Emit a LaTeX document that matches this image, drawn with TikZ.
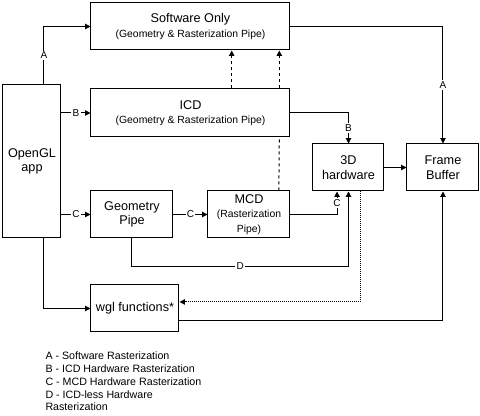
\documentclass[tikz,border=0pt]{standalone}
\usepackage{fontspec}
\setmainfont{Liberation Sans}
\usetikzlibrary{arrows.meta}

\tikzset{every picture/.style={line width=0.75pt}}
\tikzset{
  blk/.style={draw, fill=white, inner sep=0pt, align=center, font=\fontsize{9.5}{11}\selectfont},
  tag/.style={fill=white, inner sep=1pt, font=\fontsize{7.5}{9}\selectfont},
  flow/.style={-{Triangle[length=4pt,width=4pt]}},
  dashflow/.style={flow, dash pattern=on 2.25pt off 2.25pt},
  dotflow/.style={flow, dash pattern=on 0.75pt off 0.75pt},
}
\newcommand{\subtxt}[1]{{\fontsize{7.8}{9.5}\selectfont #1}}

\begin{document}
\begin{tikzpicture}[x=0.75pt,y=0.75pt,yscale=-1,xscale=1]
\useasboundingbox (0,0) rectangle (480,416);

%Shape: Rectangle [soft]
\node[blk, minimum width=149.25pt, minimum height=35.25pt] (soft) at (190.5,26.5) {Software Only\\\subtxt{(Geometry \& Rasterization Pipe)}};
%Shape: Rectangle [app]
\node[blk, minimum width=43.5pt, minimum height=114.75pt] (app) at (32,161.5) {OpenGL\\app};
%Shape: Rectangle [icd]
\node[blk, minimum width=149.25pt, minimum height=36pt] (icd) at (190.5,113) {ICD\\\subtxt{(Geometry \& Rasterization Pipe)}};
%Shape: Rectangle [hw]
\node[blk, minimum width=53.25pt, minimum height=35.25pt] (hw) at (348.5,167.5) {3D\\hardware};
%Shape: Rectangle [fb]
\node[blk, minimum width=54pt, minimum height=35.25pt] (fb) at (443,167.5) {Frame\\Buffer};
%Shape: Rectangle [geo]
\node[blk, minimum width=61.5pt, minimum height=35.25pt] (geo) at (132,214.5) {Geometry\\Pipe};
%Shape: Rectangle [mcd]
\node[blk, minimum width=61.5pt, minimum height=35.25pt] (mcd) at (249,214.5) {MCD\\\subtxt{(Rasterization}\\\subtxt{Pipe)}};
%Shape: Rectangle [wgl]
\node[blk, minimum width=66pt, minimum height=35.25pt] (wgl) at (135,308.5) {wgl functions*};

%Straight Lines [A]
\draw[flow] ([xshift=9pt]app.north) |- node[pos=0.25, tag] {A} (soft.west);
\draw[flow] (soft.east) -| node[pos=0.75, tag] {A} (fb.north);
%Straight Lines [B]
\draw[flow] (app.east |- icd.west) -- node[tag] {B} (icd.west);
\draw[flow] (icd.east) -| node[pos=0.75, tag] {B} (hw.north);
%Straight Lines [C]
\draw[flow] (app.east |- geo.west) -- node[tag] {C} (geo.west);
\draw[flow] (geo.east) -- node[tag] {C} (mcd.west);
\draw[flow] (mcd.east) -| node[pos=0.75, tag] {C} ([xshift=-8.6pt]hw.south);
%Straight Lines [D]
\draw[flow] (geo.south) -- ++(0,28) -| node[pos=0.25, tag] {D} (hw.south);
%Straight Lines [hw to fb]
\draw[flow] (hw.east) -- (fb.west);
%Straight Lines [dashed]
\draw[dashflow] ([xshift=30.9pt]icd.north) -- ([xshift=30.9pt]soft.south);
\draw[dashflow] ([xshift=66.6pt]icd.north) -- ([xshift=66.6pt]soft.south);
\draw[dash pattern=on 2.25pt off 2.25pt] ([xshift=22.4pt]mcd.north) -- ([xshift=66.6pt]icd.south);
%Straight Lines [wgl]
\draw[flow] ([xshift=9pt]app.south) |- (wgl.west);
\draw[dotflow] ([xshift=9pt]hw.south) |- ([yshift=-4.9pt]wgl.east);
\draw[flow] ([yshift=9pt]wgl.east) -| (fb.south);

%Text [key]
\node[anchor=north west, align=left, inner sep=0pt, font=\fontsize{8}{9.7}\selectfont] (key) at (45,351) {A - Software Rasterization\\B - ICD Hardware Rasterization\\C - MCD Hardware Rasterization\\D - ICD-less Hardware\\Rasterization};
\end{tikzpicture}
\end{document}
